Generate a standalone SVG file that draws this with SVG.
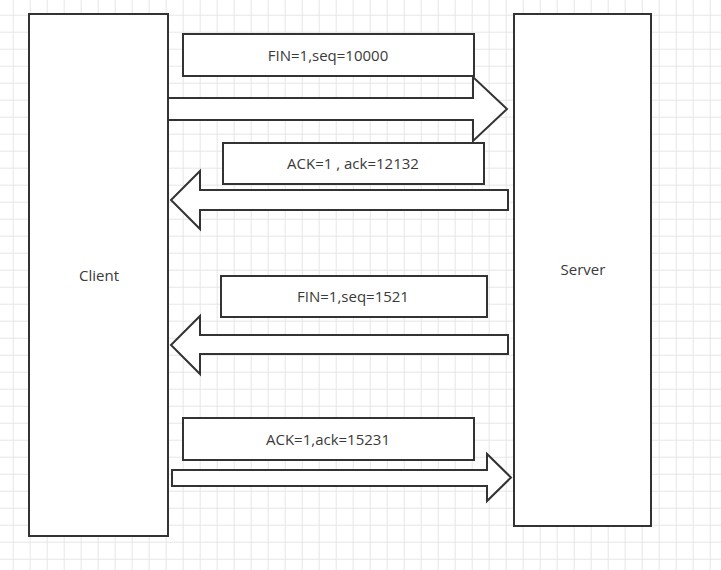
<svg xmlns="http://www.w3.org/2000/svg" width="721" height="570" viewBox="0 0 721 570">
  <defs>
    <pattern id="grid" x="12.7" y="14.7" width="17" height="17" patternUnits="userSpaceOnUse">
      <path d="M0 0.5 H17 M0.5 0 V17" fill="none" stroke="#e6e6e6" stroke-width="1"/>
    </pattern>
    <style>
      .box { fill: #ffffff; stroke: #333333; stroke-width: 2; }
      .arrow { fill: #ffffff; stroke: #333333; stroke-width: 2; stroke-linejoin: miter; }
      .lbl { font-family: "Open Sans", "Liberation Sans", Arial, sans-serif; font-size: 15px; fill: #3a3a3a; text-anchor: middle; }
    </style>
  </defs>
  <rect width="721" height="570" fill="#ffffff"/>
  <rect width="721" height="570" fill="url(#grid)"/>

  <g id="client">
    <rect class="box" x="29" y="14" width="139" height="522"/>
    <text class="lbl" x="99" y="281">Client</text>
  </g>
  <g id="server">
    <rect class="box" x="514" y="14" width="137" height="512"/>
    <text class="lbl" x="583" y="275">Server</text>
  </g>

  <g id="label-fin1">
    <rect class="box" x="183" y="34" width="291" height="42"/>
    <text class="lbl" x="328" y="61">FIN=1,seq=10000</text>
  </g>
  <g id="label-ack1">
    <rect class="box" x="223" y="143" width="261" height="41"/>
    <text class="lbl" x="353" y="169">ACK=1 , ack=12132</text>
  </g>
  <g id="label-fin2">
    <rect class="box" x="221" y="276" width="266" height="41"/>
    <text class="lbl" x="353" y="302">FIN=1,seq=1521</text>
  </g>
  <g id="label-ack2">
    <rect class="box" x="183" y="418" width="291" height="42"/>
    <text class="lbl" x="328" y="445">ACK=1,ack=15231</text>
  </g>

  <g id="connectors">
    <polygon class="arrow" points="168,98 473,98 473,77 507,109 473,141 473,120 168,120"/>
    <polygon class="arrow" points="508,190 200,190 200,171 171,200 200,229 200,210 508,210"/>
    <polygon class="arrow" points="508,335 200,335 200,316 171,345 200,374 200,354 508,354"/>
    <polygon class="arrow" points="172,470 487,470 487,454 511,477.5 487,501 487,486 172,486"/>
  </g>
</svg>
